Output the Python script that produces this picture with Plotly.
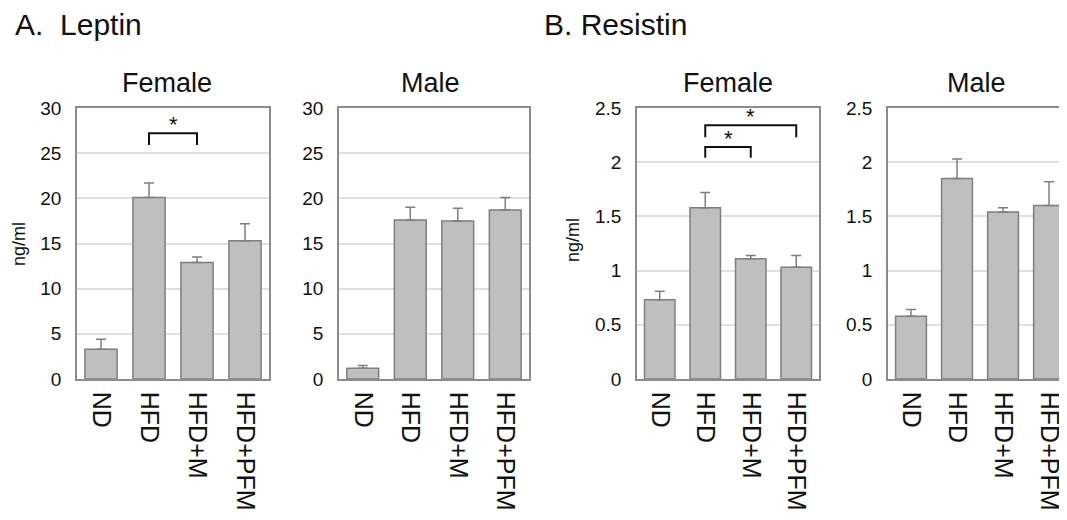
import plotly.graph_objects as go

categories = ["ND", "HFD", "HFD+M", "HFD+PFM"]

leptin_female = [3.3, 20.1, 12.9, 15.3]
leptin_female_err = [1.1, 1.6, 0.6, 1.9]
leptin_male = [1.2, 17.6, 17.5, 18.7]
leptin_male_err = [0.3, 1.4, 1.4, 1.4]
resistin_female = [0.73, 1.58, 1.11, 1.03]
resistin_female_err = [0.08, 0.14, 0.03, 0.11]
resistin_male = [0.58, 1.85, 1.54, 1.60]
resistin_male_err = [0.06, 0.18, 0.04, 0.22]

W, H = 1067, 520
OFF = 8  # page body margin in the browser
FONT = "Liberation Sans, Arial, sans-serif"
BAR_FILL = "#bfbfbf"
BAR_LINE = "#7f7f7f"
FRAME = "#8c8c8c"
GRID = "#e0e0e0"
TXT = "#111111"


def fx(px):
    return (px - OFF) / W


def fy(py):
    return (H - (py - OFF)) / H


panels = [
    dict(px=(77, 269), vals=leptin_female, err=leptin_female_err, ymax=30, dtick=5, title="Female", tx=167, xr=[-0.5, 3.5], mirror=True),
    dict(px=(339, 529), vals=leptin_male, err=leptin_male_err, ymax=30, dtick=5, title="Male", tx=430, xr=[-0.5, 3.5], mirror=True),
    dict(px=(637, 819), vals=resistin_female, err=resistin_female_err, ymax=2.5, dtick=0.5, title="Female", tx=728, xr=[-0.5, 3.5], mirror=True),
    dict(px=(888, 1067), vals=resistin_male, err=resistin_male_err, ymax=2.5, dtick=0.5, title="Male", tx=976, xr=[-0.5, 3.39], mirror=False),
]
TOP, BOTTOM = 108, 379

fig = go.Figure()
layout = dict(
    template="none",
    width=W, height=H, margin=dict(l=0, r=0, t=0, b=0, pad=0), autosize=False,
    paper_bgcolor="white", plot_bgcolor="white", showlegend=False,
    bargap=0.33, font=dict(family=FONT, color=TXT),
)
annotations = []
shapes = []

for i, p in enumerate(panels):
    n = i + 1
    xa = "x" if n == 1 else f"x{n}"
    ya = "y" if n == 1 else f"y{n}"
    fig.add_trace(go.Bar(
        x=list(range(len(categories))), y=p["vals"], xaxis=xa, yaxis=ya,
        marker=dict(color=BAR_FILL, line=dict(color=BAR_LINE, width=1.5)),
        error_y=dict(type="data", symmetric=False, array=p["err"], arrayminus=[0] * 4,
                     color=BAR_LINE, thickness=1.5, width=5),
    ))
    l, r = p["px"]
    layout["xaxis" if n == 1 else f"xaxis{n}"] = dict(
        domain=[fx(l), fx(r)], anchor=ya, range=p["xr"], tickmode="array",
        tickvals=list(range(4)), ticktext=categories, tickangle=90,
        tickfont=dict(size=25, family=FONT, color=TXT),
        showline=True, linecolor=FRAME, linewidth=1.5, mirror=True,
        showgrid=False, zeroline=False, ticks="", automargin=False,
        ticklabelstandoff=6,
    )
    layout["yaxis" if n == 1 else f"yaxis{n}"] = dict(
        domain=[fy(BOTTOM), fy(TOP)], anchor=xa, range=[0, p["ymax"]], dtick=p["dtick"],
        tickfont=dict(size=19, family=FONT, color=TXT),
        showline=True, linecolor=FRAME, linewidth=1.5, mirror=p["mirror"],
        showgrid=True, gridcolor=GRID, gridwidth=1.5, zeroline=False, ticks="",
        ticklabelstandoff=10, automargin=False,
    )
    annotations.append(dict(
        text=p["title"], x=fx(p["tx"]), y=fy(83), xref="paper", yref="paper",
        showarrow=False, font=dict(size=27, family=FONT, color=TXT),
        xanchor="center", yanchor="middle",
    ))

# significance brackets: (panel, x0, x1, top, leg_bottom, star_y)
brackets = [
    (1, 1, 2, 27.2, 25.9, 28.2),
    (3, 1, 2, 2.14, 2.04, 2.22),
    (3, 1, 3, 2.34, 2.23, 2.42),
]
for n, x0, x1, yt, yb, ys in brackets:
    xr = "x" if n == 1 else f"x{n}"
    yr = "y" if n == 1 else f"y{n}"
    shapes.append(dict(type="path", xref=xr, yref=yr,
                       path=f"M {x0} {yb} L {x0} {yt} L {x1} {yt} L {x1} {yb}",
                       line=dict(color=TXT, width=2)))
    annotations.append(dict(text="*", x=(x0 + x1) / 2, y=ys, xref=xr, yref=yr,
                            showarrow=False, font=dict(size=22, family=FONT, color=TXT),
                            xanchor="center", yanchor="middle"))

# y-axis labels
annotations.append(dict(text="ng/ml", x=0, y=fy(244), xref="paper", yref="paper",
                        showarrow=False, textangle=-90, borderpad=0,
                        font=dict(size=18, family=FONT, color=TXT),
                        xanchor="left", yanchor="middle"))
annotations.append(dict(text="ng/ml", x=fx(573), y=fy(240), xref="paper", yref="paper",
                        showarrow=False, textangle=-90,
                        font=dict(size=18, family=FONT, color=TXT),
                        xanchor="center", yanchor="middle"))

# panel headings
for txt, xpx in [("A.&nbsp;&nbsp;Leptin", 13), ("B. Resistin", 542)]:
    annotations.append(dict(text=txt, x=fx(xpx), y=fy(24), xref="paper", yref="paper",
                            showarrow=False, font=dict(size=30, family=FONT, color=TXT),
                            xanchor="left", yanchor="middle"))

layout["annotations"] = annotations
layout["shapes"] = shapes
fig.update_layout(**layout)
fig.write_html("out.html")
